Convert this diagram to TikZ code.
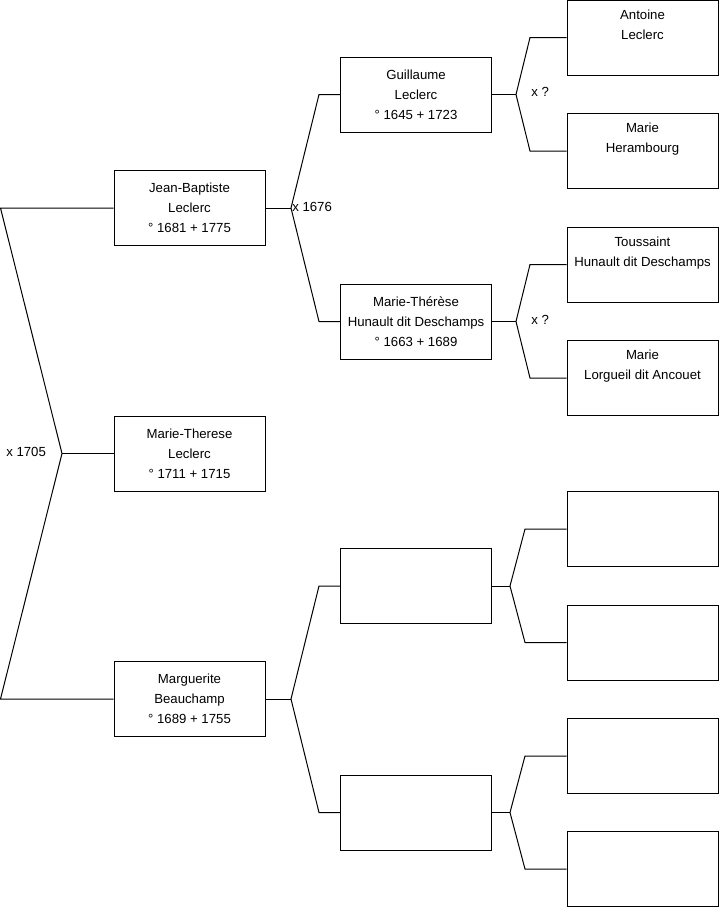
\documentclass[tikz,border=0pt]{standalone}
\usepackage{fontspec}
\setmainfont{Liberation Sans}
\begin{document}
\begin{tikzpicture}[x=0.75pt,y=-0.75pt,
  box/.style={draw=black, line width=0.75pt, fill=white, rectangle, inner sep=0pt,
    minimum width=113.25pt, minimum height=56.25pt, align=center,
    font=\fontsize{9.9}{15}\selectfont},
  conn/.style={draw=black, line width=0.75pt, line join=miter},
  lbl/.style={anchor=west, inner sep=0pt, font=\fontsize{9.9}{12}\selectfont}]
\useasboundingbox (0,0) rectangle (719,908);
% generation 1
\node[box] (jb) at (189.5,208) {Jean-Baptiste\\Leclerc\\° 1681 + 1775};
\node[box] (mt) at (189.5,453.5) {Marie-Therese\\Leclerc\\° 1711 + 1715};
\node[box] (mb) at (189.5,699) {Marguerite\\Beauchamp\\° 1689 + 1755};
% generation 2
\node[box] (gl) at (416,94.5) {Guillaume\\Leclerc\\° 1645 + 1723};
\node[box] (mth) at (416,321.5) {Marie-Thérèse\\Hunault dit Deschamps\\° 1663 + 1689};
\node[box] (e1) at (416,586) {};
\node[box] (e2) at (416,812.5) {};
% generation 3
\node[box] (a) at (642.5,37.5) {Antoine\\Leclerc\\\strut};
\node[box] (b) at (642.5,151) {Marie\\Herambourg\\\strut};
\node[box] (c) at (642.5,264.5) {Toussaint\\Hunault dit Deschamps\\\strut};
\node[box] (d) at (642.5,378) {Marie\\Lorgueil dit Ancouet\\\strut};
\node[box] (e) at (642.5,529) {};
\node[box] (f) at (642.5,642.5) {};
\node[box] (g) at (642.5,756) {};
\node[box] (h) at (642.5,869) {};
% junction coordinates
\coordinate (p0a) at (0.5,208);
\coordinate (p0b) at (0.5,699);
\coordinate (j0) at (62,453.5);
\coordinate (j1) at (291,208);
\coordinate (g1) at (319,94.5);
\coordinate (m1) at (319,321.5);
\coordinate (j2) at (516,94.5);
\coordinate (a1) at (530,37.5);
\coordinate (b1) at (530,151);
\coordinate (j3) at (516,321.5);
\coordinate (c1) at (530,264.5);
\coordinate (d1) at (530,378);
\coordinate (j4) at (291,699);
\coordinate (e1c) at (319,586);
\coordinate (e2c) at (319,812.5);
\coordinate (j5) at (510,586);
\coordinate (ec) at (525,529);
\coordinate (fc) at (525,642.5);
\coordinate (j6) at (510,812.5);
\coordinate (gc) at (525,756);
\coordinate (hc) at (525,869);
% connectors
\draw[conn] (jb.west) -- (p0a) -- (j0) -- (p0b) -- (mb.west);
\draw[conn] (j0) -- (mt.west);
\draw[conn] (jb.east) -- (j1);
\draw[conn] (gl.west) -- (g1) -- (j1) -- (m1) -- (mth.west);
\draw[conn] (mb.east) -- (j4);
\draw[conn] (e1.west) -- (e1c) -- (j4) -- (e2c) -- (e2.west);
\draw[conn] (gl.east) -- (j2);
\draw[conn] (a.west) -- (a1) -- (j2) -- (b1) -- (b.west);
\draw[conn] (mth.east) -- (j3);
\draw[conn] (c.west) -- (c1) -- (j3) -- (d1) -- (d.west);
\draw[conn] (e1.east) -- (j5);
\draw[conn] (e.west) -- (ec) -- (j5) -- (fc) -- (f.west);
\draw[conn] (e2.east) -- (j6);
\draw[conn] (g.west) -- (gc) -- (j6) -- (hc) -- (h.west);
% labels
\node[lbl] (l1) at (6,452) {x 1705};
\node[lbl] (l2) at (292,207) {x 1676};
\node[lbl] (l3) at (531,92) {x ?};
\node[lbl] (l4) at (531,320) {x ?};
\end{tikzpicture}
\end{document}
